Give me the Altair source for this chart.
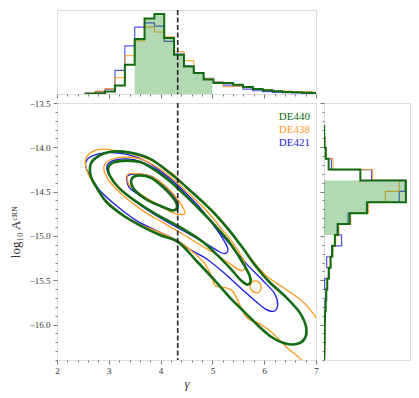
import altair as alt
import numpy as np
import pandas as pd

# ---------------- data ----------------
series = ["DE440", "DE438", "DE421"]
colors = ["#136b13", "#ff9a1f", "#1c1ce6"]

# gamma histogram (top): bin start, bin width, heights per series
gamma_edge0 = 2.55
gamma_binw = 0.19
gamma_h_de440 = [0.2, 0.8, 2.5, 8.7, 29.7, 56, 76.7, 81.3, 57, 40, 28, 21.3, 14.7, 11.3, 11.3, 9.5, 7, 5, 3.7, 2.7, 2, 1.7, 1.3, 1]
gamma_h_de438 = [0.8, 3, 5.5, 16.7, 39, 54, 68, 63, 58, 43, 34, 21, 15.7, 12, 7.5, 8, 7.3, 5.5, 4.5, 3.3, 3, 2.5, 2.5, 1.7]
gamma_h_de421 = [1.0, 2.5, 5, 24, 49, 68, 72.3, 69, 53.5, 40.5, 28.5, 21.3, 16, 12, 9, 8, 5, 3.3, 2.5, 1.7, 1.3, 1, 0.7, 0.7]
gamma_shade = [3.50, 5.00]

# log10 A histogram (right): top edge, bin width (downwards), widths per series
loga_edge0 = -13.759
loga_binw = -0.123
loga_h_de440 = [0.2, 0.5, 1.7, 4.7, 36.7, 82.7, 82.7, 43.3, 26, 14, 11, 8.3, 6.7, 5, 3.3, 2.3, 1.7, 1, 0.7, 0.7, 0.5, 0.3]
loga_h_de438 = [0.2, 0.7, 2.3, 9, 49, 76, 62, 45, 27, 15, 11.7, 9, 6, 4.5, 3, 2.3, 1.7, 1.3, 1, 0.9, 0.6, 0.4]
loga_h_de421 = [0.2, 0.5, 2.0, 7.5, 48, 82, 76, 44, 24.3, 13.3, 17.7, 7.7, 2.7, 4.3, 0.7, 1.7, 1, 0.7, 0.3, 0.3, 0.2, 0.2]
loga_shade = [-14.374, -14.989]

gamma_true = 4.33

# contour vertices (gamma, log10 A)
de440_c1 = [(3.44, -14.36), (3.54, -14.32), (3.80, -14.34), (4.05, -14.45), (4.28, -14.60), (4.31, -14.69),
            (4.21, -14.71), (3.99, -14.66), (3.73, -14.59), (3.51, -14.49), (3.44, -14.42)]
de440_c2 = [(2.99, -14.23), (3.10, -14.17), (3.35, -14.15), (3.62, -14.17), (3.90, -14.26), (4.15, -14.37),
            (4.40, -14.50), (4.70, -14.67), (5.00, -14.85), (5.30, -15.05), (5.52, -15.24), (5.68, -15.40),
            (5.74, -15.50), (5.68, -15.55), (5.55, -15.50), (5.35, -15.37), (5.10, -15.22), (4.80, -15.06),
            (4.34, -14.89), (3.90, -14.75), (3.50, -14.60), (3.20, -14.46), (3.03, -14.33)]
de440_c3 = [(2.65, -14.19), (2.77, -14.11), (3.03, -14.05), (3.41, -14.06), (3.80, -14.13), (4.18, -14.29),
            (4.50, -14.45), (4.82, -14.62), (5.08, -14.77), (5.33, -14.94), (5.59, -15.14), (5.85, -15.35),
            (6.10, -15.52), (6.42, -15.69), (6.68, -15.86), (6.81, -16.03), (6.78, -16.16), (6.62, -16.22),
            (6.39, -16.21), (6.14, -16.14), (5.88, -16.01), (5.62, -15.86), (5.33, -15.69), (5.01, -15.48),
            (4.69, -15.28), (4.34, -15.07), (3.99, -14.99), (3.60, -14.88), (3.28, -14.77), (2.96, -14.62),
            (2.76, -14.45), (2.65, -14.32)]

de438_c1 = [(3.38, -14.30), (3.60, -14.30), (3.86, -14.34), (4.12, -14.45), (4.37, -14.62), (4.47, -14.74),
            (4.40, -14.76), (4.24, -14.74), (3.99, -14.66), (3.67, -14.55), (3.41, -14.44), (3.36, -14.36)]
de438_c2 = [(2.91, -14.21), (3.03, -14.14), (3.28, -14.11), (3.60, -14.13), (3.92, -14.22), (4.24, -14.36),
            (4.56, -14.53), (4.88, -14.71), (5.15, -14.90), (5.40, -15.08), (5.58, -15.25), (5.64, -15.35),
            (5.54, -15.39), (5.33, -15.31), (5.05, -15.20), (4.76, -15.10), (4.40, -14.97), (4.05, -14.85),
            (3.67, -14.72), (3.31, -14.56), (3.06, -14.42), (2.93, -14.30)]
de438_c2b = [(5.94, -15.58), (5.91, -15.63), (5.83, -15.64), (5.75, -15.61), (5.73, -15.57), (5.77, -15.52),
             (5.86, -15.51), (5.92, -15.54)]
de438_c3 = [(2.56, -14.12), (2.71, -14.04), (2.90, -14.02), (3.15, -14.04), (3.47, -14.08), (3.86, -14.16),
            (4.24, -14.30), (4.56, -14.49), (4.89, -14.66), (5.21, -14.87), (5.53, -15.09), (5.78, -15.28),
            (6.04, -15.45), (6.36, -15.58), (6.68, -15.71), (6.90, -15.84), (7.06, -15.99), (7.13, -16.21),
            (7.06, -16.40), (6.87, -16.46), (6.65, -16.36), (6.42, -16.25), (6.17, -16.10), (5.91, -15.99),
            (5.65, -15.91), (5.40, -15.63), (5.21, -15.58), (5.05, -15.56), (4.98, -15.45), (4.85, -15.31),
            (4.66, -15.20), (4.37, -15.07), (3.99, -14.96), (3.60, -14.87), (3.22, -14.74), (2.90, -14.57),
            (2.67, -14.38), (2.56, -14.23)]

de421_c1 = [(3.36, -14.32), (3.54, -14.30), (3.83, -14.33), (4.08, -14.44), (4.28, -14.57), (4.34, -14.68),
            (4.26, -14.71), (4.05, -14.68), (3.76, -14.60), (3.51, -14.51), (3.38, -14.44), (3.35, -14.37)]
de421_c2 = [(2.96, -14.22), (3.08, -14.15), (3.33, -14.13), (3.62, -14.16), (3.92, -14.25), (4.20, -14.38),
            (4.50, -14.55), (4.80, -14.72), (5.05, -14.90), (5.22, -15.05), (5.30, -15.15), (5.24, -15.20),
            (5.08, -15.16), (4.80, -15.06), (4.40, -14.93), (4.00, -14.80), (3.60, -14.65), (3.25, -14.49),
            (3.03, -14.34)]
de421_c3 = [(2.56, -14.16), (2.67, -14.10), (2.96, -14.06), (3.35, -14.08), (3.73, -14.16), (4.12, -14.32),
            (4.44, -14.49), (4.76, -14.68), (5.01, -14.87), (5.33, -15.09), (5.65, -15.31), (5.97, -15.50),
            (6.20, -15.65), (6.26, -15.78), (6.18, -15.85), (6.01, -15.82), (5.78, -15.71), (5.53, -15.58),
            (5.21, -15.41), (4.89, -15.26), (4.56, -15.15), (4.31, -15.05), (3.92, -14.94), (3.54, -14.83),
            (3.15, -14.66), (2.83, -14.49), (2.64, -14.32), (2.56, -14.23)]

contours = {
    "DE440": [de440_c1, de440_c2, de440_c3],
    "DE438": [de438_c1, de438_c2, de438_c2b, de438_c3],
    "DE421": [de421_c1, de421_c2, de421_c3],
}
gamma_hists = {"DE440": gamma_h_de440, "DE438": gamma_h_de438, "DE421": gamma_h_de421}
loga_hists = {"DE440": loga_h_de440, "DE438": loga_h_de438, "DE421": loga_h_de421}

# ---------------- tables ----------------
rows = []
for s, curves in contours.items():
    for ci, pts in enumerate(curves):
        for i, (g, a) in enumerate(pts):
            rows.append({"s": s, "cid": f"{s}-{ci}", "i": i, "g": g, "a": a})
cont_df = pd.DataFrame(rows)

rows = []
for s, hs in gamma_hists.items():
    edges = [gamma_edge0 + gamma_binw * k for k in range(len(hs) + 1)]
    k = 0
    rows.append({"s": s, "i": k, "g": edges[0], "h": 0.0}); k += 1
    for b, h in enumerate(hs):
        rows.append({"s": s, "i": k, "g": edges[b], "h": h}); k += 1
        rows.append({"s": s, "i": k, "g": edges[b + 1], "h": h}); k += 1
    rows.append({"s": s, "i": k, "g": edges[-1], "h": 0.0})
top_df = pd.DataFrame(rows)

shade_rows = []
edges = [gamma_edge0 + gamma_binw * k for k in range(len(gamma_h_de440) + 1)]
for b, h in enumerate(gamma_h_de440):
    lo, hi = max(edges[b], gamma_shade[0]), min(edges[b + 1], gamma_shade[1])
    if hi - lo > 1e-6:
        shade_rows.append({"g": lo, "g2": hi, "h": h, "h0": 0.0})
top_shade_df = pd.DataFrame(shade_rows)

rows = []
for s, hs in loga_hists.items():
    edges = [loga_edge0 + loga_binw * k for k in range(len(hs) + 1)]
    k = 0
    rows.append({"s": s, "i": k, "a": edges[0], "h": 0.0}); k += 1
    for b, h in enumerate(hs):
        rows.append({"s": s, "i": k, "a": edges[b], "h": h}); k += 1
        rows.append({"s": s, "i": k, "a": edges[b + 1], "h": h}); k += 1
    rows.append({"s": s, "i": k, "a": edges[-1], "h": 0.0})
right_df = pd.DataFrame(rows)

shade_rows = []
edges = [loga_edge0 + loga_binw * k for k in range(len(loga_h_de440) + 1)]
for b, h in enumerate(loga_h_de440):
    top_e, bot_e = edges[b], edges[b + 1]
    hi, lo = min(top_e, loga_shade[0]), max(bot_e, loga_shade[1])
    if hi - lo > 1e-6:
        shade_rows.append({"a": hi, "a2": lo, "h": h, "h0": 0.0})
right_shade_df = pd.DataFrame(shade_rows)

# ---------------- styling ----------------
FONT = "Liberation Serif"
GREY = "#555555"
x_ticks = [round(v, 1) for v in np.arange(2.0, 7.0001, 0.2)]
y_ticks = [round(v, 1) for v in np.arange(-16.4, -13.4999, 0.1)]
x_major = "abs(datum.value - round(datum.value)) < 1e-6"
y_major = "abs(datum.value * 2 - round(datum.value * 2)) < 1e-6"

def xaxis(labels, title=None):
    kw = dict(values=x_ticks, domain=False, grid=False, tickColor=GREY, tickWidth=0.8,
              tickSize={"condition": {"test": x_major, "value": 4}, "value": 2})
    if labels:
        kw.update(labelExpr=f"{x_major} ? format(datum.value, 'd') : ''", labelFont=FONT,
                  labelFontSize=9, labelColor="#333", labelPadding=2, labelFlush=False,
                  title=title, titleFont=FONT, titleFontSize=13, titleFontStyle="italic",
                  titleFontWeight="normal", titleColor="#333", titlePadding=2)
    else:
        kw.update(labels=False, title=None)
    return alt.Axis(**kw)

def yaxis(labels, title=None):
    kw = dict(values=y_ticks, domain=False, grid=False, tickColor=GREY, tickWidth=0.8,
              tickSize={"condition": {"test": y_major, "value": 4}, "value": 2})
    if labels:
        kw.update(labelExpr=f"{y_major} ? format(datum.value, '.1f') : ''", labelFont=FONT,
                  labelFontSize=9, labelColor="#333", labelPadding=3, labelFlush=False,
                  title=title, titleFont=FONT, titleFontSize=13, titleFontWeight="normal",
                  titleColor="#333", titlePadding=7)
    else:
        kw.update(labels=False, title=None)
    return alt.Axis(**kw)

gx_scale = alt.Scale(domain=[2, 7], nice=False, zero=False)
ay_scale = alt.Scale(domain=[-16.4, -13.5], nice=False, zero=False)
top_max = max(gamma_h_de440 + gamma_h_de438 + gamma_h_de421) * 1.05
right_max = max(loga_h_de440 + loga_h_de438 + loga_h_de421) * 1.05

MAIN_W, MAIN_H = 259, 257
TOP_H, RIGHT_W = 84, 86

# ---------------- top histogram ----------------
tx = alt.X("g:Q", scale=gx_scale, axis=xaxis(False))
ty = alt.Y("h:Q", scale=alt.Scale(domain=[0, top_max], nice=False), axis=None)

def top_line(s, w, op):
    return alt.Chart(top_df[top_df.s == s]).mark_line(clip=True, strokeWidth=w, opacity=op,
                                                      color=colors[series.index(s)]).encode(
        x=tx, y=ty, order="i:Q")

top_shade = alt.Chart(top_shade_df).mark_rect(color="green", opacity=0.3, clip=True).encode(
    x=tx, x2="g2:Q", y=ty, y2="h0:Q")
top_rule = alt.Chart(pd.DataFrame({"g": [gamma_true]})).mark_rule(
    color="#222222", strokeWidth=1.6, strokeDash=[5, 2.5]).encode(x=tx)
top = alt.layer(top_line("DE421", 1.2, 0.75), top_line("DE438", 1.2, 0.8), top_shade,
                top_line("DE440", 2.0, 1.0), top_rule).properties(width=MAIN_W, height=TOP_H)

# ---------------- main contour panel ----------------
mx = alt.X("g:Q", scale=gx_scale, axis=xaxis(True, "γ"))
my = alt.Y("a:Q", scale=ay_scale, axis=yaxis(True, "log₁₀ Aᶜᴿᴺ"))

def cont_layer(s, w):
    return alt.Chart(cont_df[cont_df.s == s]).mark_line(
        clip=True, strokeWidth=w, interpolate="cardinal-closed",
        color=colors[series.index(s)]).encode(x=mx, y=my, detail="cid:N", order="i:Q")

main_rule = alt.Chart(pd.DataFrame({"g": [gamma_true]})).mark_rule(
    color="#222222", strokeWidth=1.6, strokeDash=[5, 2.5]).encode(x=mx)

legend_y = [14, 27, 40]
legend_layers = [
    alt.Chart(pd.DataFrame({"s": [s]})).mark_text(
        font=FONT, fontSize=11, align="right", baseline="middle", color=colors[k]).encode(
        text="s:N", x=alt.value(MAIN_W - 6), y=alt.value(legend_y[k]))
    for k, s in enumerate(series)
]

main = alt.layer(cont_layer("DE421", 1.3), cont_layer("DE438", 1.3), cont_layer("DE440", 2.6),
                 main_rule, *legend_layers).properties(width=MAIN_W, height=MAIN_H)

# ---------------- right histogram ----------------
rx = alt.X("h:Q", scale=alt.Scale(domain=[0, right_max], nice=False), axis=None)
ry = alt.Y("a:Q", scale=ay_scale, axis=yaxis(False))

def right_line(s, w, op):
    return alt.Chart(right_df[right_df.s == s]).mark_line(clip=True, strokeWidth=w, opacity=op,
                                                          color=colors[series.index(s)]).encode(
        x=rx, y=ry, order="i:Q")

right_shade = alt.Chart(right_shade_df).mark_rect(color="green", opacity=0.3, clip=True).encode(
    x=rx, x2="h0:Q", y=ry, y2="a2:Q")
right = alt.layer(right_line("DE421", 1.2, 0.75), right_line("DE438", 1.2, 0.8), right_shade,
                  right_line("DE440", 2.0, 1.0)).properties(width=RIGHT_W, height=MAIN_H)

row = alt.hconcat(main, right, spacing=8, bounds="flush")
chart = alt.vconcat(top, row, spacing=9, bounds="flush").properties(padding=0).configure_view(
    stroke=GREY, strokeWidth=1.2).configure(background="white")

chart.save("out.html", embed_options={"renderer": "svg", "actions": False})
